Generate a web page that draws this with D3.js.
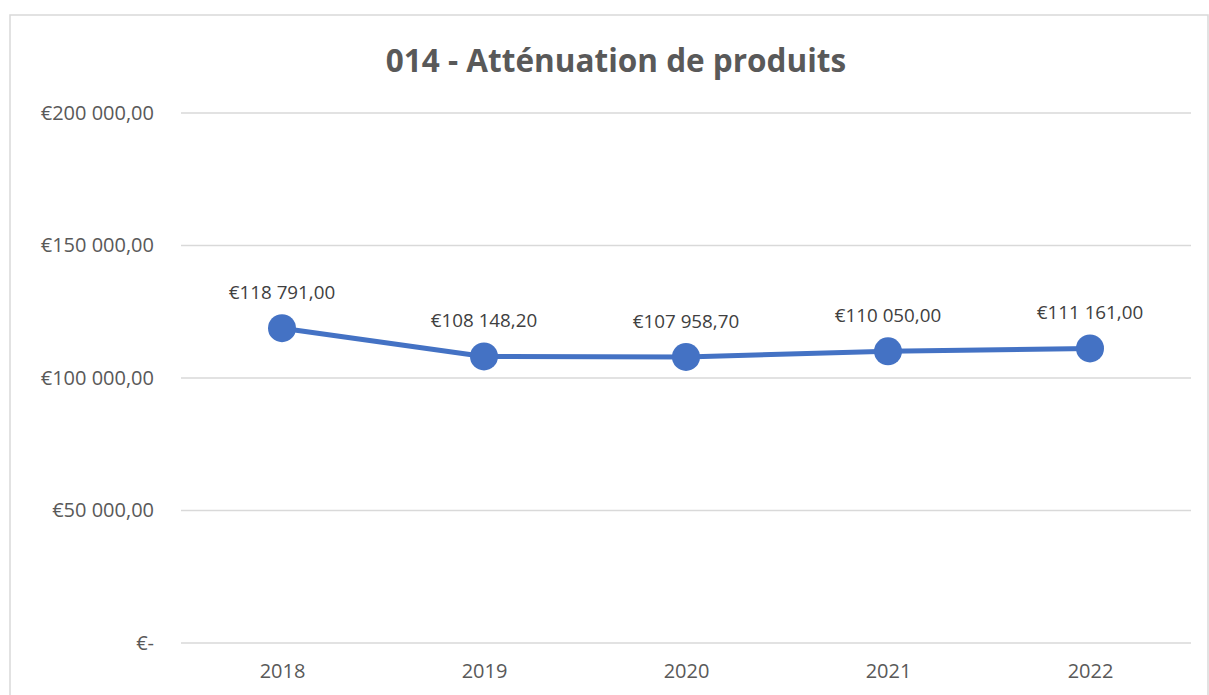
<!DOCTYPE html>
<meta charset="utf-8">
<style>
body{ margin:0; background:#fff; }
text{ font-family:"Open Sans", "Noto Sans", sans-serif; fill:#595959; }
.grid line{ stroke:#d9d9d9; stroke-width:1.3px; }
.title{ font-size:31.5px; font-weight:bold; text-anchor:middle; }
.tick text{ font-size:20px; }
.lbl{ font-size:18.8px; text-anchor:middle; fill:#404040; }
</style>
<body>
<script src="https://d3js.org/d3.v7.min.js"></script>
<script>
var years = ["2018","2019","2020","2021","2022"];
var values = [118791.00, 108148.20, 107958.70, 110050.00, 111161.00];
var yTicks = [0, 50000, 100000, 150000, 200000];
var valueLabels = ["€118 791,00","€108 148,20","€107 958,70","€110 050,00","€111 161,00"];
var tickLabels = ["€-","€50 000,00","€100 000,00","€150 000,00","€200 000,00"];

var W = 1209, H = 695;
var svg = d3.select("body").append("svg").attr("width", W).attr("height", H);

// chart frame
svg.append("rect").attr("x",10).attr("y",15).attr("width",1198).attr("height",700)
    .attr("fill","none").attr("stroke","#d9d9d9").attr("stroke-width",1.5);

svg.append("text").attr("class","title").attr("x",616).attr("y",72)
    .text("014 - Atténuation de produits");

var x = d3.scalePoint().domain(years).range([181,1191]).padding(0.5);
var y = d3.scaleLinear().domain([0,200000]).range([643,113]);

// gridlines + y labels
var g = svg.append("g").attr("class","grid");
g.selectAll("line").data(yTicks).join("line")
    .attr("x1",181).attr("x2",1191)
    .attr("y1",d=>y(d)).attr("y2",d=>y(d));

var yAx = svg.append("g").attr("transform","translate(154,0)")
    .call(d3.axisLeft(y).tickValues(yTicks).tickSize(0).tickPadding(0)
        .tickFormat((d,i)=>tickLabels[i]));
yAx.select(".domain").remove();

var xAx = svg.append("g").attr("transform","translate(0,643)")
    .call(d3.axisBottom(x).tickSize(0).tickPadding(21));
xAx.select(".domain").remove();
xAx.selectAll("text").attr("dy","0.71em");

var line = d3.line().x((d,i)=>x(years[i])).y(d=>y(d));
svg.append("path").datum(values).attr("d",line)
    .attr("fill","none").attr("stroke","#4472c4").attr("stroke-width",5)
    .attr("stroke-linejoin","round");

svg.selectAll("circle.pt").data(values).join("circle").attr("class","pt")
    .attr("cx",(d,i)=>x(years[i])).attr("cy",d=>y(d)).attr("r",14)
    .attr("fill","#4472c4");

svg.selectAll("text.lbl").data(values).join("text").attr("class","lbl")
    .attr("x",(d,i)=>x(years[i])).attr("y",d=>y(d)-29)
    .text((d,i)=>valueLabels[i]);
</script>
</body>
</html>
